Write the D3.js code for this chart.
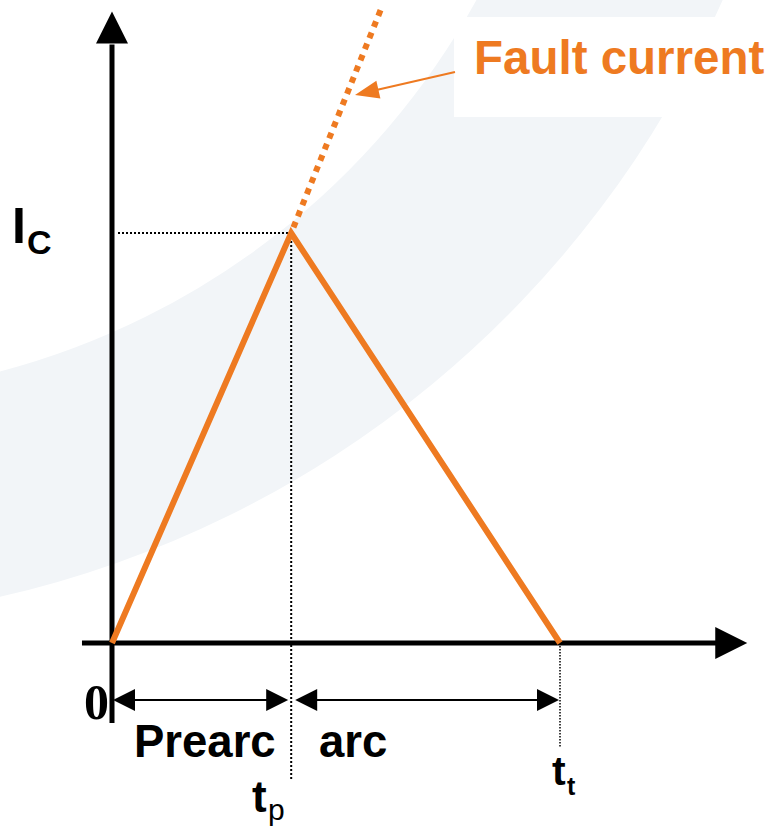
<!DOCTYPE html>
<html>
<head>
<meta charset="utf-8">
<script src="https://cdn.jsdelivr.net/npm/d3@7"></script>
<style>
  body { margin: 0; background: #fff; }
  svg { display: block; }
  text { font-family: "Liberation Sans", Arial, sans-serif; font-weight: bold; }
</style>
</head>
<body>
<div id="chart"></div>
<script>
// Data: fuse current vs time (normalised: t_t = 1, I_C = 1)
const times = [0, 0.4, 1.0];          // 0, t_p, t_t
const current = [0, 1, 0];            // let-through current
const faultTimes = [0.4, 0.6];        // prospective fault current (dotted)
const faultCurrent = [1, 1.545];
const markTimes = [0.4, 1.0];         // t_p, t_t
const icValue = 1;

// colours
const orange = '#ee7a21';
const band = '#f2f5f8';

const svg_width = 771, svg_height = 830;
const svg = d3.select('#chart').append('svg')
    .attr('width', svg_width).attr('height', svg_height);

// scales
const x = d3.scaleLinear().domain([0, 1]).range([112, 560]);
const y = d3.scaleLinear().domain([0, 1]).range([643, 233]);

// background swoosh (two non-concentric circles)
function bandPath() {
    const c1 = {x: -232, y: -420, r: 1043}; // outer
    const c2 = {x: -196, y: -371, r: 768};  // inner
    const o0 = c1.x + Math.sqrt(c1.r * c1.r - c1.y * c1.y);
    const o1 = c1.y + Math.sqrt(c1.r * c1.r - c1.x * c1.x);
    const i0 = c2.y + Math.sqrt(c2.r * c2.r - c2.x * c2.x);
    const i1 = c2.x + Math.sqrt(c2.r * c2.r - c2.y * c2.y);
    return `M${o0},0 A${c1.r},${c1.r} 0 0 1 0,${o1} L0,${i0} A${c2.r},${c2.r} 0 0 0 ${i1},0 Z`;
}
svg.append('path').attr('d', bandPath()).attr('fill', band);

// white box behind the label
svg.append('rect').attr('x', 454).attr('y', 17).attr('width', 330).attr('height', 100)
    .attr('fill', '#fff');

// arrowhead helper (triangle pointing from (fx,fy) to tip)
function arrowHead(g, tipX, tipY, fromX, fromY, len, half, color) {
    const a = Math.atan2(tipY - fromY, tipX - fromX);
    const bx = tipX - len * Math.cos(a), by = tipY - len * Math.sin(a);
    const px = -Math.sin(a) * half, py = Math.cos(a) * half;
    g.append('path')
        .attr('d', `M${tipX},${tipY} L${bx + px},${by + py} L${bx - px},${by - py} Z`)
        .attr('fill', color);
}

// dotted guide lines
const guides = svg.append('g').attr('class', 'guides');
guides.append('line')
    .attr('x1', x(0) + 6).attr('x2', x(markTimes[0]))
    .attr('y1', y(icValue)).attr('y2', y(icValue))
    .attr('stroke', '#000').attr('stroke-width', 2).attr('stroke-dasharray', '2,2');
guides.append('line')
    .attr('x1', x(markTimes[0])).attr('x2', x(markTimes[0]))
    .attr('y1', y(icValue)).attr('y2', 779)
    .attr('stroke', '#000').attr('stroke-width', 2).attr('stroke-dasharray', '2,2');
guides.append('line')
    .attr('x1', x(markTimes[1])).attr('x2', x(markTimes[1]))
    .attr('y1', y(0)).attr('y2', 747)
    .attr('stroke', '#000').attr('stroke-width', 1.5).attr('stroke-dasharray', '1.5,1.5');

// axes (plain lines with arrowheads)
const axes = svg.append('g').attr('class', 'axes');
axes.append('line')
    .attr('x1', x(-0.067)).attr('x2', x(1.36))
    .attr('y1', y(0)).attr('y2', y(0))
    .attr('stroke', '#000').attr('stroke-width', 5);
arrowHead(axes, x(1.418), y(0), x(0), y(0), 32, 16, '#000');
axes.append('line')
    .attr('x1', x(0)).attr('x2', x(0))
    .attr('y1', y(-0.195)).attr('y2', y(1.46))
    .attr('stroke', '#000').attr('stroke-width', 5);
arrowHead(axes, x(0), y(1.54), x(0), y(0), 32, 16, '#000');

// current curve
const line = d3.line().x((d, i) => x(times[i])).y((d, i) => y(current[i]));
svg.append('path').datum(current)
    .attr('d', line)
    .attr('fill', 'none').attr('stroke', orange).attr('stroke-width', 6)
    .attr('stroke-linejoin', 'miter');

// prospective fault current
const fline = d3.line().x((d, i) => x(faultTimes[i])).y((d, i) => y(faultCurrent[i]));
svg.append('path').datum(faultCurrent)
    .attr('d', fline)
    .attr('fill', 'none').attr('stroke', orange).attr('stroke-width', 6)
    .attr('stroke-dasharray', '6,6').attr('stroke-dashoffset', -6);

// annotation arrow
const ann = svg.append('g');
ann.append('line').attr('x1', 455).attr('y1', 72).attr('x2', 372).attr('y2', 91)
    .attr('stroke', orange).attr('stroke-width', 2);
arrowHead(ann, 355, 95, 455, 72, 24, 9, orange);
ann.append('text').attr('x', 474).attr('y', 74)
    .style('font-size', '47.5px').attr('fill', orange).text('Fault current');

// duration arrows
const dur = svg.append('g');
const arrowY = 700;
[[0, markTimes[0]], [markTimes[0], markTimes[1]]].forEach(([a, b]) => {
    const x1 = x(a) + 1, x2 = x(b) - 1;
    dur.append('line').attr('x1', x1 + 10).attr('x2', x2 - 10)
        .attr('y1', arrowY).attr('y2', arrowY)
        .attr('stroke', '#000').attr('stroke-width', 2);
    arrowHead(dur, x1 + (a === 0 ? 0 : 3), arrowY, x2, arrowY, 22, 11, '#000');
    arrowHead(dur, x2 - (a === 0 ? 2 : 0), arrowY, x1, arrowY, 22, 11, '#000');
});

// labels
svg.append('text').attr('x', 134).attr('y', 757).style('font-size', '45.5px').text('Prearc');
svg.append('text').attr('x', 319).attr('y', 757).style('font-size', '45.5px').text('arc');

svg.append('text').attr('x', x(0) - 3).attr('y', 719).attr('text-anchor', 'end')
    .style('font-family', '"Liberation Serif", "Times New Roman", serif')
    .style('font-size', '50px').text('0');

svg.append('text').attr('x', 12).attr('y', 243).style('font-size', '50px').text('I');
svg.append('text').attr('x', 27).attr('y', 254).style('font-size', '34px').text('C');

svg.append('text').attr('x', 252).attr('y', 812).style('font-size', '44px').text('t');
svg.append('text').attr('x', 268).attr('y', 820).style('font-size', '30px')
    .style('font-weight', 'normal').text('p');

svg.append('text').attr('x', 552).attr('y', 785).style('font-size', '41px').text('t');
svg.append('text').attr('x', 567).attr('y', 795).style('font-size', '25px').text('t');
</script>
</body>
</html>
